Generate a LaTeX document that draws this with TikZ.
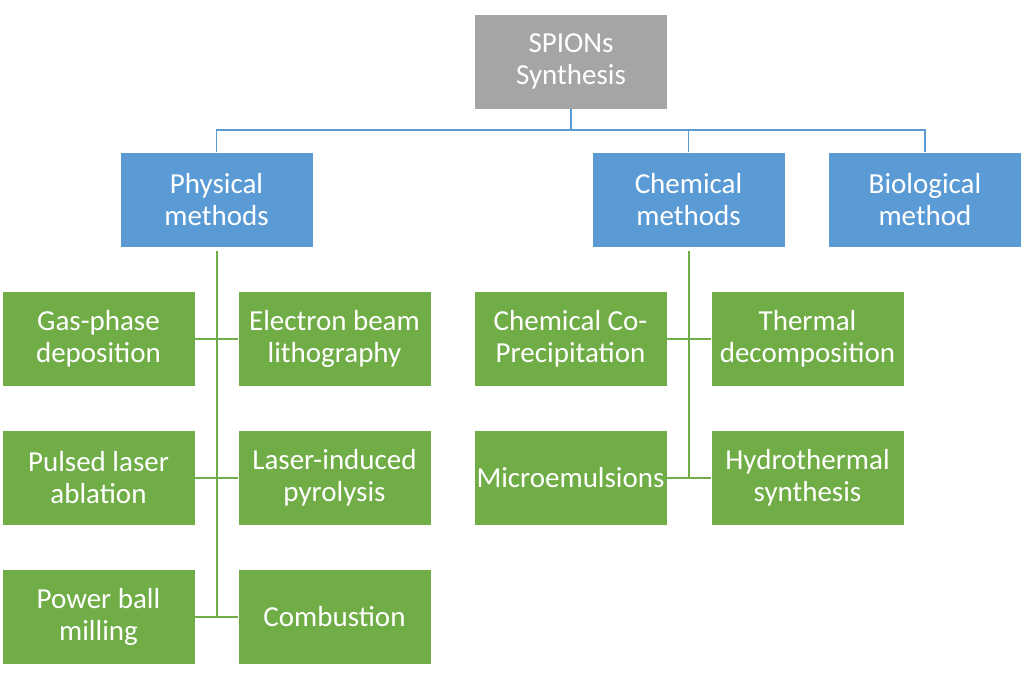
\documentclass[tikz,border=0pt]{standalone}
\usepackage{fontspec}
\setmainfont{Carlito}
\definecolor{cgray}{HTML}{A5A5A5}
\definecolor{cblue}{HTML}{5B9BD5}
\definecolor{cgreen}{HTML}{70AD47}
\begin{document}
\begin{tikzpicture}[x=1pt,y=-1pt,
  box/.style={draw=white, line width=0.6pt, minimum width=193pt, minimum height=95pt, inner sep=0pt,
    text=white, align=center, font=\fontsize{29}{32}\selectfont},
  gbox/.style={box, fill=cgreen},
  bbox/.style={box, fill=cblue},
  blink/.style={draw=cblue, line width=1.6pt},
  glink/.style={draw=cgreen, line width=2pt}]
\useasboundingbox (0,0) rectangle (1024,678);
\node[box, fill=cgray] (top) at (571,61.5) {SPIONs\\Synthesis};
\node[bbox] (phys) at (216.5,200) {Physical\\methods};
\node[bbox] (chem) at (688.5,200) {Chemical\\methods};
\node[bbox] (bio) at (925,200) {Biological\\method};
\node[gbox] (gas) at (98.5,338.5) {Gas-phase\\deposition};
\node[gbox] (ebl) at (334.5,338.5) {Electron beam\\lithography};
\node[gbox] (pla) at (98.5,477.5) {Pulsed laser\\ablation};
\node[gbox] (lip) at (334.5,477.5) {Laser-induced\\pyrolysis};
\node[gbox] (pbm) at (98.5,616.5) {Power ball\\milling};
\node[gbox] (comb) at (334.5,616.5) {Combustion};
\node[gbox] (cop) at (570.5,338.5) {Chemical Co-\\Precipitation};
\node[gbox] (therm) at (807.5,338.5) {Thermal\\decomposition};
\node[gbox] (micro) at (570.5,477.5) {Microemulsions};
\node[gbox] (hydro) at (807.5,477.5) {Hydrothermal\\synthesis};
\coordinate (bus) at (571,130);
\draw[blink] (top.south) -- (bus);
\draw[blink] (phys.north) |- (bus) -| (bio.north);
\draw[blink] (chem.north) -- (chem.north |- bus);
\draw[glink] ([yshift=-3pt]phys.south) -- (phys.south |- pbm.east);
\draw[glink] (gas.east) -- (ebl.west);
\draw[glink] (pla.east) -- (lip.west);
\draw[glink] (pbm.east) -- (comb.west);
\draw[glink] ([yshift=-3pt]chem.south) -- (chem.south |- micro.east);
\draw[glink] (cop.east) -- (therm.west);
\draw[glink] (micro.east) -- (hydro.west);
\end{tikzpicture}
\end{document}
